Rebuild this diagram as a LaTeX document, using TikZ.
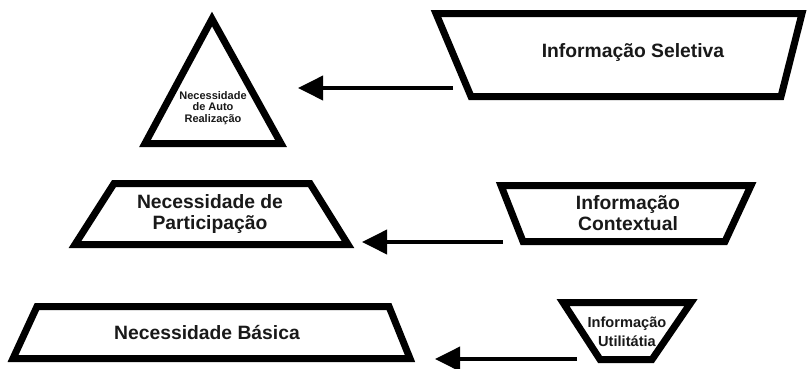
\documentclass[tikz,border=0pt]{standalone}
\usepackage{fontspec}
\setmainfont{Liberation Sans}
\usetikzlibrary{arrows.meta}
\begin{document}
\begin{tikzpicture}[x=1pt,y=-1pt,
  shapeline/.style={line width=7pt, line join=miter, draw=black, fill=white},
  conn/.style={line width=3.8pt, -{Triangle[length=25pt,width=24pt]}},
  bigtxt/.style={font=\bfseries\fontsize{19.3}{21}\selectfont, align=center, text=black!90, inner sep=0pt},
  midtxt/.style={font=\bfseries\fontsize{14.6}{19}\selectfont, align=center, text=black!90, inner sep=0pt},
  smalltxt/.style={font=\bfseries\fontsize{11}{11.2}\selectfont, align=center, text=black!90, inner sep=0pt}]
\useasboundingbox (0,0) rectangle (809,368);
% shapes
\draw[shapeline] (212,19) -- (281,143.5) -- (145,143.5) -- cycle;
\draw[shapeline] (436,13.5) -- (802,13.5) -- (781,96.5) -- (471,96.5) -- cycle;
\draw[shapeline] (114,183.5) -- (310,183.5) -- (348,244.5) -- (75,244.5) -- cycle;
\draw[shapeline] (501,185.5) -- (751,185.5) -- (725,241.5) -- (523,241.5) -- cycle;
\draw[shapeline] (37,306.5) -- (389,306.5) -- (410,358.5) -- (13,358.5) -- cycle;
\draw[shapeline] (563,302.5) -- (691,302.5) -- (652,359.5) -- (600,359.5) -- cycle;
% texts
\node[smalltxt] (auto) at (213,108) {Necessidade\\de Auto\\Realização};
\node[bigtxt] (selet) at (633,53) {Informação Seletiva};
\node[bigtxt] (partic) at (210,214) {Necessidade de\\Participação};
\node[bigtxt] (context) at (628,213) {Informação\\Contextual};
\node[bigtxt] (basica) at (207,333) {Necessidade Básica};
\node[midtxt] (utilit) at (627,332) {Informação\\Utilitátia};
% connectors
\coordinate (s1) at (453,88); \coordinate (e1) at (298,88);
\coordinate (s2) at (503,242); \coordinate (e2) at (362,242);
\coordinate (s3) at (577,359); \coordinate (e3) at (435,359);
\draw[conn] (s1) -- (e1);
\draw[conn] (s2) -- (e2);
\draw[conn] (s3) -- (e3);
\end{tikzpicture}
\end{document}
